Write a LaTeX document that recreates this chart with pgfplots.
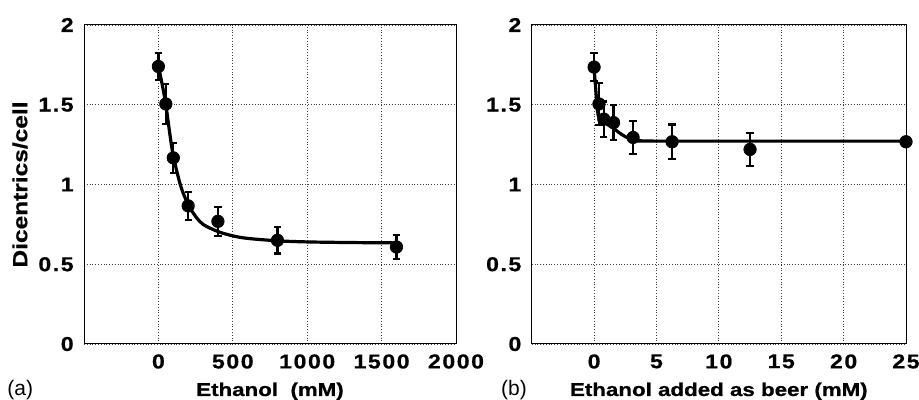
\documentclass[border=0pt]{standalone}
\usepackage{fontspec}
\setmainfont{Liberation Sans}[FakeStretch=1.2, BoldFeatures={FakeBold=0.8}]
\newfontfamily\tickfont{Liberation Sans}[FakeStretch=1.15, LetterSpace=8, BoldFeatures={FakeBold=0.8}]
\newfontfamily\plainfont{Liberation Sans}
\usepackage{pgfplots}
\pgfplotsset{compat=1.18}

\pgfplotsset{
  panel/.style={
    scale only axis,
    height=159.5pt,
    ymin=0, ymax=2,
    ytick={0,0.5,1,1.5,2},
    grid=major,
    major grid style={densely dotted, black!75, line width=0.4pt},
    major tick length=0pt,
    axis line style={line width=0.5pt},
    tick label style={font=\tickfont\bfseries\fontsize{10}{12}\selectfont},
    /pgf/number format/assume math mode=true,
    /pgf/number format/1000 sep={},
    scaled ticks=false,
    xticklabel style={inner sep=0pt, anchor=north, yshift=-5pt},
    yticklabel style={inner sep=0pt, anchor=east, xshift=-5pt},
    label style={font=\bfseries\fontsize{9.3}{11}\selectfont},
    xlabel style={at={(axis description cs:0.5,-0.163)}, anchor=base},
    clip=false,
  },
  pts/.style={only marks, mark=*, mark size=3.1pt, black,
    error bars/.cd, y dir=both, y explicit,
    error bar style={line width=1.1pt},
    error mark options={rotate=90, line width=1.1pt, mark size=1.8pt}},
  fit/.style={black, line width=1.6pt, smooth, no marks},
}

\begin{document}
\begin{tikzpicture}
\useasboundingbox (0,0) rectangle (459.5pt,200pt);

% (a) ethanol
\begin{axis}[panel, at={(42pt,28pt)}, anchor=south west, width=186pt,
  xmin=-500, xmax=2000, xtick={0,500,1000,1500,2000},
  xlabel={Ethanol\ \ (mM)}, ylabel={Dicentrics/cell},
  ylabel style={at={(axis description cs:-0.172,0.5)}, anchor=center,
    font=\bfseries\fontsize{10.2}{12}\selectfont}]
\addplot[fit] coordinates {(0,1.74) (25,1.63) (50,1.50) (75,1.33) (100,1.18)
  (150,0.99) (200,0.875) (250,0.80) (300,0.75) (400,0.705) (500,0.678)
  (600,0.662) (800,0.647) (1000,0.640) (1300,0.636) (1600,0.634)};
\addplot[pts] coordinates {(0,1.74) +- (0,0.085) (50,1.505) +- (0,0.125)
  (100,1.167) +- (0,0.095) (200,0.866) +- (0,0.087) (400,0.769) +- (0,0.09)
  (800,0.65) +- (0,0.082) (1600,0.608) +- (0,0.075)};
\end{axis}

% (b) beer
\begin{axis}[panel, at={(265.85pt,28pt)}, anchor=south west, width=187.15pt,
  xmin=-5, xmax=25, xtick={0,5,10,15,20,25},
  xlabel={Ethanol added as beer (mM)}]
\addplot[fit, tension=0.5] coordinates {(0,1.72) (0.1,1.63) (0.2,1.53) (0.3,1.45)
  (0.4,1.42) (0.8,1.39) (1.2,1.37) (1.6,1.35) (2.0,1.325) (2.5,1.30)
  (3.0,1.285) (3.5,1.277) (4,1.273) (6,1.272) (25,1.272)};
\addplot[pts] coordinates {(0,1.736) +- (0,0.087) (0.39,1.505) +- (0,0.13)
  (0.78,1.41) +- (0,0.11) (1.56,1.388) +- (0,0.11) (3.125,1.295) +- (0,0.105)
  (6.25,1.268) +- (0,0.108) (12.5,1.22) +- (0,0.103) (25,1.268) +- (0,0)};
\end{axis}

\node[anchor=base west, inner sep=0pt, font=\plainfont\fontsize{10.5}{12}\selectfont] at (3.5pt,2pt) {(a)};
\node[anchor=base west, inner sep=0pt, font=\plainfont\fontsize{10.5}{12}\selectfont] at (250.4pt,2pt) {(b)};
\end{tikzpicture}
\end{document}
